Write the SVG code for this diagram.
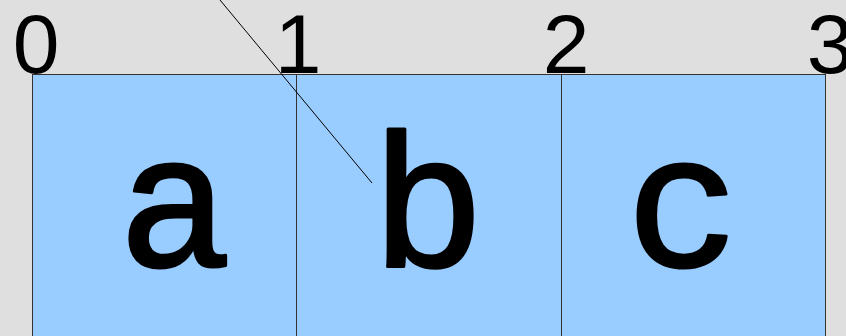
<svg xmlns="http://www.w3.org/2000/svg" width="846" height="336" viewBox="0 0 846 336">
<style>
.cell{fill:#99ccff;stroke:#333;stroke-width:1}
.num{font-family:"Liberation Sans",Arial,sans-serif;font-size:84px;fill:#000;text-anchor:middle}
.let{font-family:"Liberation Mono","Courier New",monospace;font-size:190px;fill:#000;stroke:#000;stroke-width:3;stroke-linejoin:round;text-anchor:middle}
</style>
<rect width="846" height="336" fill="#dfdfdf"/>
<g id="cell-a"><rect class="cell" x="32.5" y="74.5" width="264" height="280"/><text class="let" x="175" y="266">a</text></g>
<g id="cell-b"><rect class="cell" x="296.5" y="74.5" width="265" height="280"/><text class="let" x="428" y="266">b</text></g>
<g id="cell-c"><rect class="cell" x="561.5" y="74.5" width="264" height="280"/><text class="let" x="683" y="266">c</text></g>
<g id="labels">
<text class="num" x="36" y="73">0</text>
<text class="num" x="298" y="73">1</text>
<text class="num" x="566" y="73">2</text>
<text class="num" x="830" y="73">3</text>
</g>
<g id="connectors"><line x1="220" y1="0" x2="372" y2="183" stroke="#000" stroke-width="1"/></g>
</svg>
